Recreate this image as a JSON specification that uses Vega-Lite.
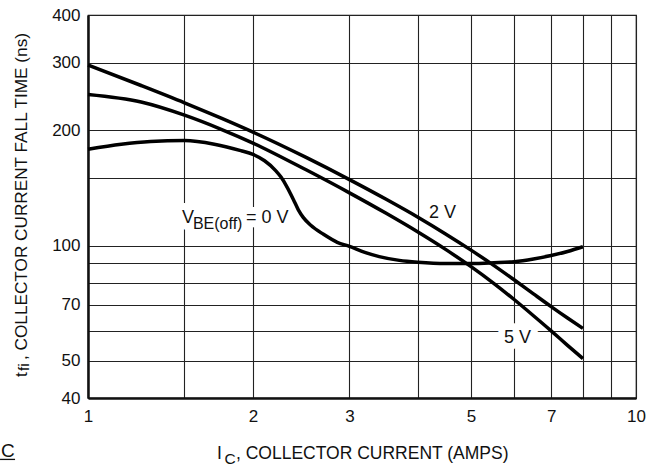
{
  "$schema": "https://vega.github.io/schema/vega-lite/v6.json",
  "width": 548,
  "height": 383,
  "autosize": {"type": "none"},
  "padding": {"left": 88, "top": 15, "right": 22, "bottom": 71},
  "background": "white",
  "config": {
    "view": {"stroke": "#111", "strokeWidth": 1.2},
    "font": "Liberation Sans",
    "axis": {
      "labelFont": "Liberation Sans",
      "labelFontSize": 17,
      "labelColor": "#111",
      "ticks": false,
      "domainColor": "#111",
      "domainWidth": 2.5,
      "gridColor": "#222",
      "gridWidth": 1.1,
      "gridOpacity": 1,
      "labelOverlap": false,
      "labelBound": false,
      "labelFlush": false
    }
  },
  "datasets": {
    "curves": [
      {"series": "2 V", "ic": 1.0, "tf": 296},
      {"series": "2 V", "ic": 1.25, "tf": 261.8},
      {"series": "2 V", "ic": 1.5, "tf": 236},
      {"series": "2 V", "ic": 1.75, "tf": 215.1},
      {"series": "2 V", "ic": 2.0, "tf": 197.8},
      {"series": "2 V", "ic": 2.5, "tf": 169.9},
      {"series": "2 V", "ic": 3.0, "tf": 148.7},
      {"series": "2 V", "ic": 3.5, "tf": 132.1},
      {"series": "2 V", "ic": 4.0, "tf": 118.6},
      {"series": "2 V", "ic": 4.5, "tf": 107.1},
      {"series": "2 V", "ic": 5.0, "tf": 97.3},
      {"series": "2 V", "ic": 5.5, "tf": 88.8},
      {"series": "2 V", "ic": 6.0, "tf": 81.3},
      {"series": "2 V", "ic": 6.5, "tf": 74.8},
      {"series": "2 V", "ic": 7.0, "tf": 69.3},
      {"series": "2 V", "ic": 7.5, "tf": 64.7},
      {"series": "2 V", "ic": 8.0, "tf": 60.8},
      {"series": "5 V", "ic": 1.0, "tf": 248},
      {"series": "5 V", "ic": 1.25, "tf": 237},
      {"series": "5 V", "ic": 1.5, "tf": 219},
      {"series": "5 V", "ic": 1.75, "tf": 201.2},
      {"series": "5 V", "ic": 2.0, "tf": 185.2},
      {"series": "5 V", "ic": 2.5, "tf": 157.7},
      {"series": "5 V", "ic": 3.0, "tf": 137.3},
      {"series": "5 V", "ic": 3.5, "tf": 121.4},
      {"series": "5 V", "ic": 4.0, "tf": 108.5},
      {"series": "5 V", "ic": 4.5, "tf": 97.6},
      {"series": "5 V", "ic": 5.0, "tf": 88.1},
      {"series": "5 V", "ic": 5.5, "tf": 79.7},
      {"series": "5 V", "ic": 6.0, "tf": 72.2},
      {"series": "5 V", "ic": 6.5, "tf": 65.6},
      {"series": "5 V", "ic": 7.0, "tf": 59.9},
      {"series": "5 V", "ic": 7.5, "tf": 54.9},
      {"series": "5 V", "ic": 8.0, "tf": 50.7},
      {"series": "0 V", "ic": 1.0, "tf": 178.5},
      {"series": "0 V", "ic": 1.15, "tf": 184},
      {"series": "0 V", "ic": 1.3, "tf": 187},
      {"series": "0 V", "ic": 1.5, "tf": 188},
      {"series": "0 V", "ic": 1.7, "tf": 184},
      {"series": "0 V", "ic": 1.9, "tf": 177},
      {"series": "0 V", "ic": 2.0, "tf": 173},
      {"series": "0 V", "ic": 2.1, "tf": 166.5},
      {"series": "0 V", "ic": 2.2, "tf": 157},
      {"series": "0 V", "ic": 2.25, "tf": 151},
      {"series": "0 V", "ic": 2.3, "tf": 143.5},
      {"series": "0 V", "ic": 2.37, "tf": 132},
      {"series": "0 V", "ic": 2.42, "tf": 124},
      {"series": "0 V", "ic": 2.47, "tf": 118.5},
      {"series": "0 V", "ic": 2.55, "tf": 113},
      {"series": "0 V", "ic": 2.69, "tf": 107},
      {"series": "0 V", "ic": 2.85, "tf": 102},
      {"series": "0 V", "ic": 3.0, "tf": 99.5},
      {"series": "0 V", "ic": 3.2, "tf": 96},
      {"series": "0 V", "ic": 3.4, "tf": 93.6},
      {"series": "0 V", "ic": 3.7, "tf": 91.5},
      {"series": "0 V", "ic": 4.0, "tf": 90.5},
      {"series": "0 V", "ic": 4.5, "tf": 89.8},
      {"series": "0 V", "ic": 5.0, "tf": 89.8},
      {"series": "0 V", "ic": 5.5, "tf": 90.2},
      {"series": "0 V", "ic": 6.0, "tf": 90.8},
      {"series": "0 V", "ic": 6.5, "tf": 92.3},
      {"series": "0 V", "ic": 7.0, "tf": 94.2},
      {"series": "0 V", "ic": 7.5, "tf": 96.5},
      {"series": "0 V", "ic": 8.0, "tf": 99.3}
    ],
    "notes": [
      {"role": "note", "text": "V", "ic": 1.484, "tf": 114.8},
      {"role": "sub", "text": "BE(off)", "ic": 1.554, "tf": 110.2},
      {"role": "note", "text": "= 0 V", "ic": 1.942, "tf": 114.8},
      {"role": "note", "text": "2 V", "ic": 4.19, "tf": 117.8},
      {"role": "note", "text": "5 V", "ic": 5.743, "tf": 55.56},
      {"role": "xtitle", "text": "I", "ic": 1.719, "tf": 27.8},
      {"role": "xsub", "text": "C", "ic": 1.775, "tf": 26.9},
      {"role": "xtitle", "text": ", COLLECTOR CURRENT (AMPS)", "ic": 1.862, "tf": 27.8},
      {"role": "ytitle", "text": "t", "ic": 0.7723, "tf": 45.38},
      {"role": "ysub", "text": "fi", "ic": 0.7805, "tf": 47.05},
      {"role": "ytitle", "text": ", COLLECTOR CURRENT FALL TIME (ns)", "ic": 0.7723, "tf": 50.27},
      {"role": "frag", "text": "C", "ic": 0.694, "tf": 28.1}
    ],
    "underline": [
      {"ic": 0.691, "ic2": 0.736, "tf": 27.65}
    ]
  },
  "encoding": {
    "x": {
      "field": "ic",
      "type": "quantitative",
      "scale": {"type": "log", "domain": [1, 10], "nice": false},
      "axis": {
        "values": [1, 1.5, 2, 3, 4, 5, 6, 7, 8, 9, 10],
        "format": "~g",
        "labelExpr": "indexof([1, 2, 3, 5, 7, 10], datum.value) >= 0 ? datum.label : ''",
        "labelPadding": 10,
        "title": null
      }
    },
    "y": {
      "field": "tf",
      "type": "quantitative",
      "scale": {"type": "log", "domain": [40, 400], "nice": false},
      "axis": {
        "values": [40, 50, 60, 70, 80, 90, 100, 150, 200, 300, 400],
        "format": "~g",
        "labelExpr": "indexof([40, 50, 70, 100, 200, 300, 400], datum.value) >= 0 ? datum.label : ''",
        "labelPadding": 8,
        "title": null
      }
    }
  },
  "layer": [
    {
      "data": {"name": "notes"},
      "transform": [{"filter": "datum.role == 'note'"}],
      "mark": {"type": "text", "align": "left", "baseline": "alphabetic", "fontSize": 18, "stroke": "white", "strokeWidth": 14, "strokeJoin": "round", "fill": "white"},
      "encoding": {"text": {"field": "text"}}
    },
    {
      "data": {"name": "notes"},
      "transform": [{"filter": "datum.role == 'sub'"}],
      "mark": {"type": "text", "align": "left", "baseline": "alphabetic", "fontSize": 16, "stroke": "white", "strokeWidth": 14, "strokeJoin": "round", "fill": "white"},
      "encoding": {"text": {"field": "text"}}
    },
    {
      "data": {"name": "curves"},
      "mark": {"type": "line", "interpolate": "monotone", "color": "#000", "strokeWidth": 3.5, "strokeCap": "butt"},
      "encoding": {"detail": {"field": "series"}}
    },
    {
      "data": {"name": "notes"},
      "transform": [{"filter": "datum.role == 'note'"}],
      "mark": {"type": "text", "align": "left", "baseline": "alphabetic", "fontSize": 18, "color": "#111"},
      "encoding": {"text": {"field": "text"}}
    },
    {
      "data": {"name": "notes"},
      "transform": [{"filter": "datum.role == 'sub'"}],
      "mark": {"type": "text", "align": "left", "baseline": "alphabetic", "fontSize": 16, "color": "#111"},
      "encoding": {"text": {"field": "text"}}
    },
    {
      "data": {"name": "notes"},
      "transform": [{"filter": "datum.role == 'xtitle'"}],
      "mark": {"type": "text", "align": "left", "baseline": "alphabetic", "fontSize": 17.5, "color": "#111"},
      "encoding": {"text": {"field": "text"}}
    },
    {
      "data": {"name": "notes"},
      "transform": [{"filter": "datum.role == 'xsub'"}],
      "mark": {"type": "text", "align": "left", "baseline": "alphabetic", "fontSize": 15.5, "color": "#111"},
      "encoding": {"text": {"field": "text"}}
    },
    {
      "data": {"name": "notes"},
      "transform": [{"filter": "datum.role == 'ytitle'"}],
      "mark": {"type": "text", "align": "left", "baseline": "alphabetic", "angle": 270, "fontSize": 17.2, "color": "#111"},
      "encoding": {"text": {"field": "text"}}
    },
    {
      "data": {"name": "notes"},
      "transform": [{"filter": "datum.role == 'ysub'"}],
      "mark": {"type": "text", "align": "left", "baseline": "alphabetic", "angle": 270, "fontSize": 15.5, "color": "#111"},
      "encoding": {"text": {"field": "text"}}
    },
    {
      "data": {"name": "notes"},
      "transform": [{"filter": "datum.role == 'frag'"}],
      "mark": {"type": "text", "align": "left", "baseline": "alphabetic", "fontSize": 19, "color": "#111"},
      "encoding": {"text": {"field": "text"}}
    },
    {
      "data": {"name": "underline"},
      "mark": {"type": "rule", "color": "#111", "strokeWidth": 1.3},
      "encoding": {"x2": {"field": "ic2"}}
    }
  ]
}
